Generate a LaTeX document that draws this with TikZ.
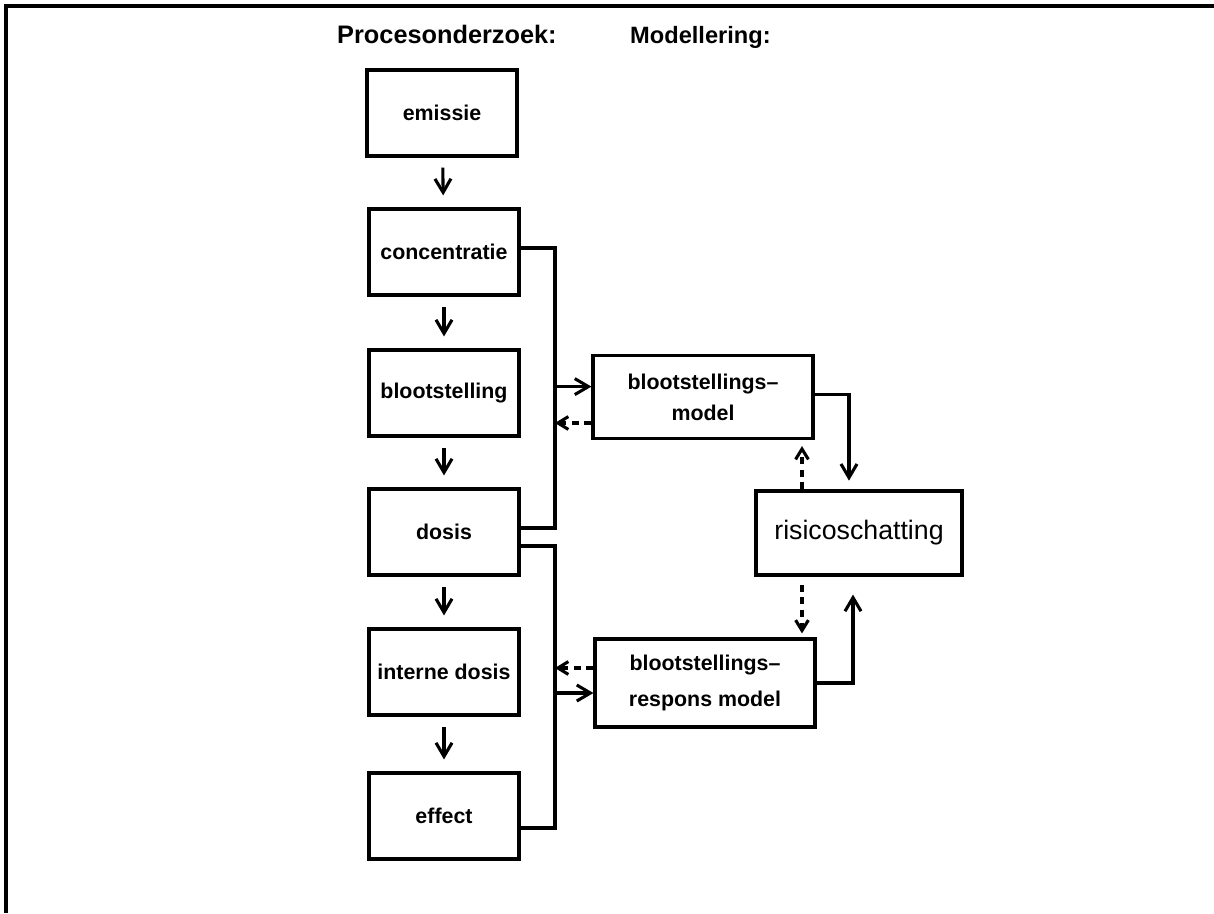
\documentclass[tikz,border=0pt]{standalone}
\usepackage{fontspec}
\setmainfont{Liberation Sans}
\usetikzlibrary{arrows.meta}

\begin{document}
\begin{tikzpicture}[x = 0.025cm, y = -0.025cm, line width = 2.2pt,
    box/.style = {shape = rectangle, draw, minimum width = 3.75cm, minimum height = 2.15cm, align = center, font = \fontsize{15.2}{22}\selectfont\bfseries},
    wbox/.style = {box, minimum width = 5.5cm},
    title/.style = {anchor = base west, font = \fontsize{18}{20}\selectfont\bfseries},
    arr/.style = {-{Straight Barb[length = 3.4mm, width = 4mm]}},
    dsh/.style = {-{Straight Barb[length = 2.6mm, width = 3.2mm]}, dash pattern = on 5pt off 4pt}]
    \useasboundingbox (0,0) rectangle (1214,913);
    \draw [line width = 3pt] (1214,6) -- (6,6) -- (6,913);

    \node [title] (P) at (331,44) {Procesonderzoek:};
    \node [title, font = \fontsize{16.8}{20}\selectfont\bfseries] (M) at (624,44) {Modellering:};

    \node [box] (e) at (442,113) {emissie};
    \node [box] (c) at (444,252) {concentratie};
    \node [box] (b) at (444,393) {blootstelling};
    \node [box] (d) at (444,532) {dosis};
    \node [box] (i) at (444,672) {interne dosis};
    \node [box] (f) at (444,816) {effect};

    \node [wbox, minimum height = 2.075cm] (bm) at (703,397) {blootstellings--\\model};
    \node [box, minimum width = 5.15cm, minimum height = 2.1cm, font = \fontsize{19}{22}\selectfont] (r) at (859,533) {risicoschatting};
    \node [wbox, minimum height = 2.2cm] (rm) at (705,683) {blootstellings--\\[4pt]respons model};

    \draw [arr, shorten <= 0.25cm, shorten >= 0.3cm] (e) to (c);
    \draw [arr, shorten <= 0.25cm, shorten >= 0.3cm] (c) to (b);
    \draw [arr, shorten <= 0.25cm, shorten >= 0.3cm] (b) to (d);
    \draw [arr, shorten <= 0.25cm, shorten >= 0.3cm] (d) to (i);
    \draw [arr, shorten <= 0.25cm, shorten >= 0.3cm] (i) to (f);

    \coordinate (bus) at (555,0);
    \coordinate (co) at ([yshift = 0.1cm]c.east);
    \coordinate (du) at ([yshift = 0.1cm]d.east);
    \coordinate (dl) at ([yshift = -0.35cm]d.east);
    \coordinate (fo) at ([yshift = -0.3cm]f.east);
    \draw (co) -| (bus |- du) -- (du);
    \draw (dl) -| (bus |- fo) -- (fo);

    \coordinate (bi) at ([yshift = 0.26cm]bm.west);
    \coordinate (bo) at ([yshift = -0.65cm]bm.west);
    \coordinate (ro) at ([yshift = 0.375cm]rm.west);
    \coordinate (ri) at ([yshift = -0.25cm]rm.west);
    \draw [arr] (bus |- bi) -- (bi);
    \draw [dsh] (bo) -- (bus |- bo);
    \draw [dsh] (ro) -- (bus |- ro);
    \draw [arr] (bus |- ri) -- (ri);

    \coordinate (rn) at ([xshift = -0.25cm]r.north);
    \coordinate (ru) at ([xshift = -1.425cm]r.north);
    \coordinate (rd) at ([xshift = -1.425cm]r.south);
    \coordinate (rs) at ([xshift = -0.15cm]r.south);
    \draw [arr, shorten >= 0.22cm] ([yshift = 0.06cm]bm.east) -| (rn);
    \draw [dsh, shorten >= 0.15cm] (ru) -- (ru |- bm.south);
    \draw [dsh, shorten <= 0.2cm, shorten >= 0.1cm] (rd) -- (rd |- rm.north);
    \draw [arr, shorten >= 0.45cm] (rm.east) -| (rs);
\end{tikzpicture}
\end{document}
